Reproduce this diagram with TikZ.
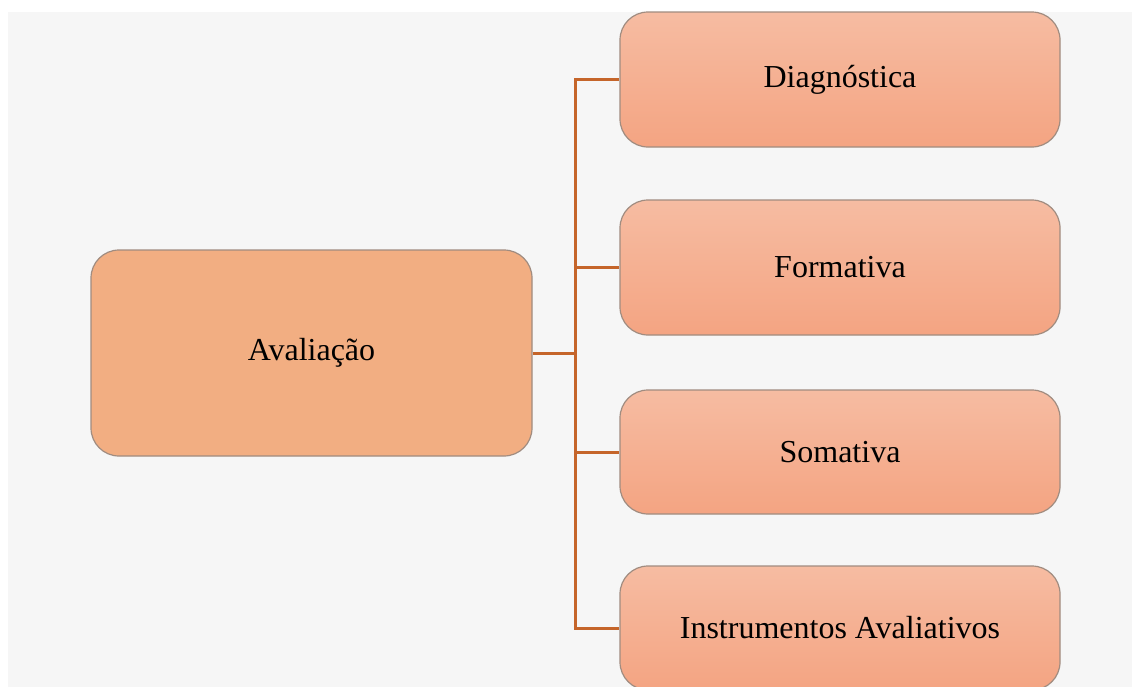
\documentclass[tikz,border=0pt]{standalone}
\usepackage{fontspec}
\setmainfont{Liberation Serif}
\definecolor{pagegray}{HTML}{F6F6F6}
\definecolor{rootfill}{HTML}{F2AE82}
\definecolor{leaftop}{HTML}{F6BCA2}
\definecolor{leafbot}{HTML}{F4A482}
\definecolor{boxline}{HTML}{A08C80}
\definecolor{linkline}{HTML}{C5652A}
\begin{document}
\begin{tikzpicture}[x=1pt,y=-1pt,
  basebox/.style={draw=boxline, line width=1.2pt, rounded corners=28pt,
    font=\fontsize{32}{37}\selectfont, text=black, inner sep=0pt},
  rootbox/.style={basebox, fill=rootfill, minimum width=441pt, minimum height=206pt},
  leafbox/.style={basebox, top color=leaftop, bottom color=leafbot,
    minimum width=440pt},
  link/.style={draw=linkline, line width=3pt}]
  \useasboundingbox (0,0) rectangle (1132,686);
  \clip (0,0) rectangle (1132,686);
  % page background
  \fill[white] (0,0) rectangle (1132,686);
  \fill[pagegray] (8,12) rectangle (1140,700);
  % boxes
  \node[rootbox] (root) at (311.5,353) {Avaliação};
  \node[leafbox, minimum height=135pt] (diag) at (840,79.5) {Diagnóstica};
  \node[leafbox, minimum height=135pt] (form) at (840,267.5) {Formativa};
  \node[leafbox, minimum height=124pt] (soma) at (840,452) {Somativa};
  \node[leafbox, minimum height=124pt] (inst) at (840,628) {Instrumentos Avaliativos};
  % connectors
  \coordinate (hub) at ([xshift=43pt]root.east);
  \draw[link] (root.east) -- (hub);
  \draw[link, line cap=rect] (hub |- diag.west) -- (hub |- inst.west);
  \foreach \n in {diag,form,soma,inst}
    \draw[link] (hub |- \n.west) -- (\n.west);
\end{tikzpicture}
\end{document}
